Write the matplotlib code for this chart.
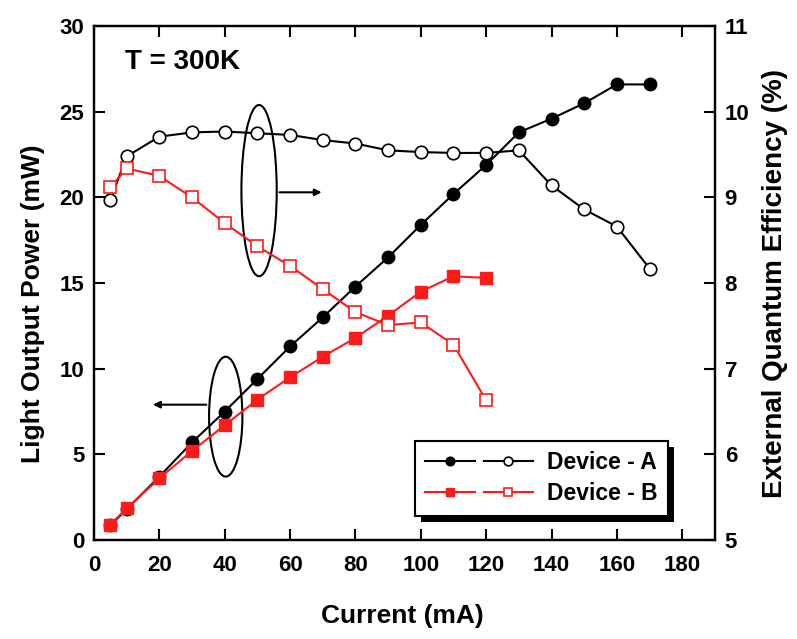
import matplotlib
matplotlib.use("Agg")
import matplotlib.pyplot as plt
from matplotlib.patches import Ellipse, Rectangle
from matplotlib.transforms import IdentityTransform
from matplotlib.legend_handler import HandlerTuple

plt.rcParams['font.family'] = ['Liberation Sans', 'DejaVu Sans']
plt.rcParams['font.weight'] = 'bold'

# Device A (black)
current_a = [5, 10, 20, 30, 40, 50, 60, 70, 80, 90, 100, 110, 120, 130, 140, 150, 160, 170]
power_a = [0.85, 1.8, 3.7, 5.7, 7.5, 9.4, 11.3, 13.0, 14.8, 16.5, 18.4, 20.2, 21.9, 23.8, 24.6, 25.5, 26.6, 26.6]
eqe_a = [8.97, 9.48, 9.71, 9.76, 9.77, 9.75, 9.73, 9.67, 9.63, 9.55, 9.53, 9.52, 9.52, 9.55, 9.14, 8.86, 8.66, 8.17]

# Device B (red)
current_b = [5, 10, 20, 30, 40, 50, 60, 70, 80, 90, 100, 110, 120]
power_b = [0.9, 1.85, 3.6, 5.2, 6.7, 8.2, 9.5, 10.7, 11.8, 13.1, 14.5, 15.4, 15.3]
eqe_b = [9.12, 9.34, 9.25, 9.0, 8.70, 8.43, 8.20, 7.93, 7.66, 7.51, 7.54, 7.28, 6.63]

RED = '#ff1a1a'

fig = plt.figure(figsize=(7.97, 6.39), dpi=100)
ax = fig.add_axes([0.118, 0.155, 0.779, 0.804])
ax2 = ax.twinx()

lpa, = ax.plot(current_a, power_a, '-o', color='black', lw=1.5, ms=9,
               mfc='black', mec='black')
lpb, = ax.plot(current_b, power_b, '-s', color=RED, lw=1.5, ms=8,
               mfc=RED, mec=RED)
lea, = ax2.plot(current_a, eqe_a, '-o', color='black', lw=1.5, ms=9,
                mfc='white', mec='black', mew=1.2)
leb, = ax2.plot(current_b, eqe_b, '-s', color=RED, lw=1.5, ms=8,
                mfc='white', mec=RED, mew=1.2)

ax.set_xlim(0, 190)
ax.set_ylim(0, 30)
ax2.set_ylim(5, 11)
ax.set_xticks(range(0, 181, 20))
ax.set_yticks(range(0, 31, 5))
ax2.set_yticks(range(5, 12))

for a in (ax, ax2):
    for s in a.spines.values():
        s.set_linewidth(1.6)
    a.tick_params(direction='in', length=8, width=1.5, labelsize=16, pad=7)
ax.tick_params(top=True)
ax.tick_params(axis='x', pad=11)

ax.set_xlabel('Current (mA)', fontsize=19, fontweight='bold')
ax.xaxis.set_label_coords(0.497, -0.124)
ax.set_ylabel('Light Output Power (mW)', fontsize=19, fontweight='bold')
ax.yaxis.set_label_coords(-0.079, 0.46)
ax2.set_ylabel('External Quantum Efficiency (%)', fontsize=20, fontweight='bold')
ax2.yaxis.set_label_coords(1.076, 0.5)

ax.text(9.5, 27.9, 'T = 300K', fontsize=20, fontweight='bold', va='center', ha='left')

# ellipse + arrow markers for the axis each group belongs to
ax.add_patch(Ellipse((50.5, 20.4), 10.8, 10.0, fill=False, ec='black', lw=1.5))
ax.annotate('', xy=(70.5, 20.3), xytext=(55.9, 20.3),
            arrowprops=dict(arrowstyle='-|>', color='black', lw=1.5, mutation_scale=10))
ax.add_patch(Ellipse((40.3, 7.2), 10.2, 7.0, fill=False, ec='black', lw=1.5))
ax.annotate('', xy=(17.2, 7.9), xytext=(35.2, 7.9),
            arrowprops=dict(arrowstyle='-|>', color='black', lw=1.5, mutation_scale=10))

leg = ax2.legend([(lpa, lea), (lpb, leb)], ['Device - A', 'Device - B'],
                 handler_map={tuple: HandlerTuple(ndivide=None, pad=0.4)},
                 loc='lower right', bbox_to_anchor=(0.924, 0.047), borderaxespad=0,
                 fontsize=16.5, handlelength=4.7, markerscale=0.7,
                 fancybox=False, edgecolor='black', framealpha=1,
                 borderpad=0.45, labelspacing=0.35, handletextpad=0.6)
leg.get_frame().set_linewidth(1.5)

# hard black drop shadow offset down-right
fig.canvas.draw()
bb = leg.get_window_extent()
shadow = Rectangle((bb.x0 + 6, bb.y0 - 6), bb.width, bb.height, transform=IdentityTransform(),
                   facecolor='black', edgecolor='none', zorder=4.9, clip_on=False)
ax2.add_artist(shadow)

fig.savefig('out.png', dpi=100)
